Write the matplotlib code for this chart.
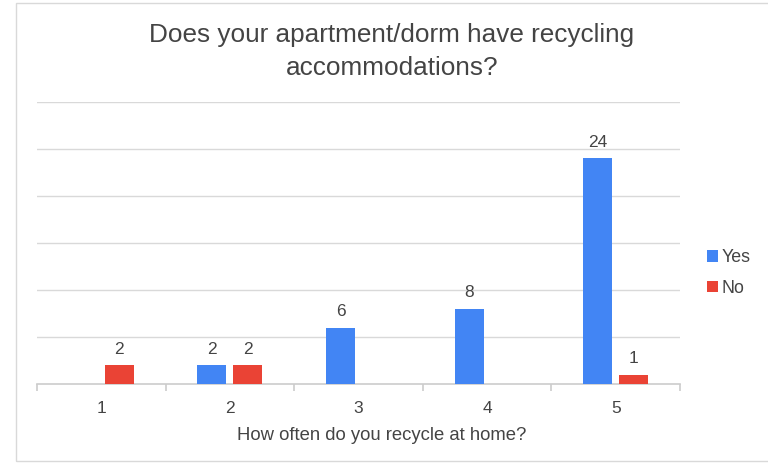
import matplotlib
matplotlib.use("Agg")
import matplotlib.pyplot as plt
from matplotlib.patches import Rectangle
import numpy as np

plt.rcParams['font.family'] = ['Liberation Sans', 'DejaVu Sans']

categories = ["1", "2", "3", "4", "5"]
yes_values = [0, 2, 6, 8, 24]
no_values = [2, 2, 0, 0, 1]
series_names = ["Yes", "No"]
title = "Does your apartment/dorm have recycling\naccommodations?"
xlabel = "How often do you recycle at home?"

BLUE = "#4285F4"
RED = "#EA4335"
TXT = "#444444"
GRID = "#d9d9d9"

W, H = 768, 463
fig = plt.figure(figsize=(W / 100, H / 100), dpi=100)
fig.patch.set_facecolor("white")

# outer chart border
fig.add_artist(Rectangle((16 / W, 1 - 461 / H), (W + 5 - 16) / W, (461 - 3) / H,
                         transform=fig.transFigure, fill=False,
                         edgecolor="#d9d9d9", linewidth=1.0))

ax = fig.add_axes([37 / W, (H - 384) / H, (680 - 37) / W, (384 - 102) / H])
x = np.arange(len(categories))
bw = 0.225
off = 0.14

def draw(vals, dx, color, name):
    v = np.array(vals, dtype=float)
    vv = np.where(v > 0, v, np.nan)
    ax.bar(x + dx, vv, width=bw, color=color, label=name, zorder=3)
    for xi, val in zip(x + dx, vals):
        if val > 0:
            ax.annotate(str(val), (xi, val), xytext=(0, 6), textcoords="offset points",
                        ha="center", va="bottom", fontsize=12.5, color=TXT)

draw(yes_values, -off, BLUE, series_names[0])
draw(no_values, off, RED, series_names[1])

ax.set_xlim(-0.5, len(categories) - 0.5)
ax.set_ylim(0, 30)
ax.set_yticks(np.arange(5, 31, 5))
ax.yaxis.grid(True, color=GRID, linewidth=1.0, zorder=0)
ax.tick_params(axis="y", length=0, labelleft=False)
for s in ["top", "right", "left"]:
    ax.spines[s].set_visible(False)
ax.spines["bottom"].set_color("#cccccc")
ax.spines["bottom"].set_linewidth(1.2)

ax.set_xticks(np.arange(-0.5, len(categories), 1.0))
ax.set_xticklabels([])
ax.set_xticks(x, minor=True)
ax.set_xticklabels(categories, minor=True, fontsize=12.5, color=TXT)
ax.tick_params(axis="x", which="major", length=5, color="#cccccc", width=1.2)
ax.tick_params(axis="x", which="minor", length=0, pad=12)

fig.text(392 / W, 1 - 51.5 / H, title, ha="center", va="center", fontsize=18.8,
         color=TXT, linespacing=1.45)
fig.text(382 / W, 1 - 436 / H, xlabel, ha="center", va="center", fontsize=13.3, color=TXT)

leg = ax.legend(loc="center left", bbox_to_anchor=(707 / W, 1 - 273 / H),
                bbox_transform=fig.transFigure, frameon=False, fontsize=12.8,
                handlelength=0.6, handleheight=0.6, handletextpad=0.2,
                labelspacing=0.75, borderaxespad=0, borderpad=0)
for t in leg.get_texts():
    t.set_color(TXT)

fig.savefig("out.png", dpi=100, facecolor="white")
